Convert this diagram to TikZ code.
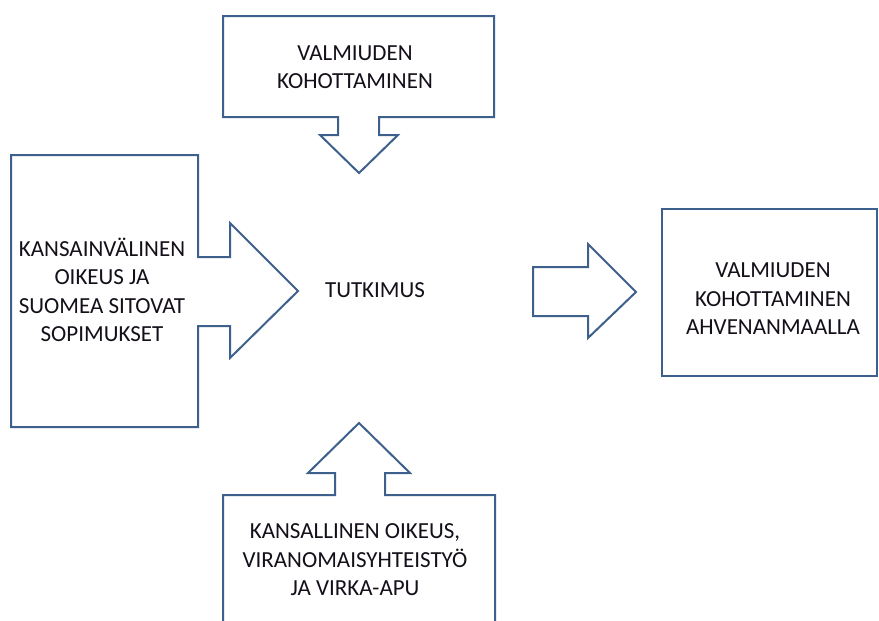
\documentclass[tikz,border=0pt]{standalone}
\usepackage{fontspec}
\setmainfont{Carlito}
\definecolor{outl}{RGB}{62,96,140}
\definecolor{txt}{RGB}{20,15,25}
\begin{document}
\begin{tikzpicture}[x=1pt,y=-1pt,
  shapeline/.style={draw=outl,line width=2pt,line join=miter},
  lbl/.style={align=center,text=txt,inner sep=0pt,font=\fontsize{23}{28.5}\selectfont}]
\useasboundingbox[fill=white] (0,0) rectangle (879,621);
% top callout
\draw[shapeline] (223,16) -- (494,16) -- (494,117) -- (379,117) -- (379,135) -- (398,135) -- (359,173) -- (320,135) -- (338,135) -- (338,117) -- (223,117) -- cycle;
% left callout
\draw[shapeline] (11,155) -- (198,155) -- (198,257) -- (230,257) -- (230,223) -- (298,291) -- (230,358) -- (230,326) -- (198,326) -- (198,427) -- (11,427) -- cycle;
% bottom callout
\draw[shapeline] (223,625) -- (223,495) -- (335,495) -- (335,473) -- (308,473) -- (359,423) -- (410,473) -- (385,473) -- (385,495) -- (495,495) -- (495,625);
% right arrow
\draw[shapeline] (533,267) -- (588,267) -- (588,244) -- (636,292) -- (588,338) -- (588,316) -- (533,316) -- cycle;
% right box
\draw[shapeline] (662,209) rectangle (877,376);
% texts
\node[lbl] (top) at (355,67) {VALMIUDEN\\KOHOTTAMINEN};
\node[lbl] (left) at (102,290) {KANSAINVÄLINEN\\OIKEUS JA\\SUOMEA SITOVAT\\SOPIMUKSET};
\node[lbl] (center) at (375,290) {TUTKIMUS};
\node[lbl] (bottom) at (355,560) {KANSALLINEN OIKEUS,\\VIRANOMAISYHTEISTYÖ\\JA VIRKA-APU};
\node[lbl] (right) at (773,299) {VALMIUDEN\\KOHOTTAMINEN\\AHVENANMAALLA};
\end{tikzpicture}
\end{document}
